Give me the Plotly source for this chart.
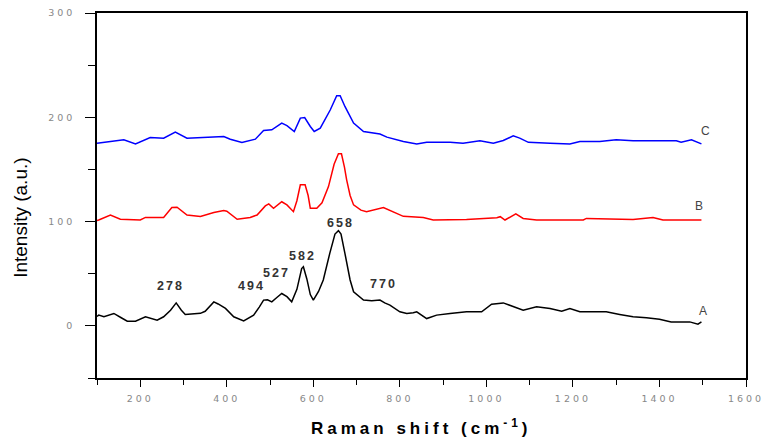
import plotly.graph_objects as go

# ---------------- data ----------------
ax = [100, 104, 116, 139, 155, 170, 189, 212, 239, 254, 270, 283, 295, 304, 339, 350, 370, 380, 397,
      416, 439, 462, 475, 485, 494, 504, 515, 527, 539, 550, 562, 573, 577, 585, 593, 600, 612, 623,
      638, 650, 658, 664, 673, 685, 693, 708, 716, 735, 754, 765, 777, 800, 816, 831, 839, 862, 885,
      916, 954, 989, 1012, 1039, 1062, 1085, 1116, 1147, 1174, 1193, 1216, 1247, 1277, 1308, 1339,
      1370, 1400, 1427, 1470, 1489, 1497]
ay = [9, 10.3, 8.7, 11.9, 8, 4.5, 4.5, 8.7, 5.5, 8.7, 15, 22, 15, 11, 12, 14, 23, 21, 16.7,
      8.7, 4.8, 10.3, 18, 24.7, 25, 23, 27, 31, 28, 23, 35, 55, 56.7, 45, 30, 24.7, 33, 44,
      69.5, 88, 91.3, 88, 69.5, 44, 32.7, 27.9, 24.7, 24, 24.7, 22, 19.9, 13.5, 11.9, 12.5, 13.5, 7, 10.3,
      11.9, 13.5, 13.5, 20.8, 22, 18.3, 15, 18.3, 16.7, 14, 16.7, 13.5, 13.5, 13.5, 11, 8.7,
      7.7, 6.4, 3.8, 3.8, 1.6, 3.8]

bx = [100, 104, 131, 154, 200, 212, 254, 273, 285, 308, 339, 370, 393, 400, 424, 454, 470, 489,
      497, 508, 527, 539, 554, 562, 570, 581, 588, 593, 608, 620, 635, 648, 658, 665, 672, 677,
      685, 693, 710, 723, 762, 793, 808, 854, 877, 954, 1024, 1032, 1043, 1068, 1085, 1116, 1224,
      1231, 1339, 1362, 1385, 1408, 1497]
by = [101, 101.5, 106.3, 102.2, 101.5, 104, 104, 113.4, 113.7, 106.3, 104.8, 108.6, 110.5, 110,
      102.2, 104, 106.3, 115, 117, 112.8, 119, 116, 109.5, 120, 135.2, 135.2, 125, 112.8, 112.8,
      118, 133.5, 155, 165, 165, 152, 140, 125, 116, 111, 109.5, 113.4, 108, 105, 104, 101.5, 102,
      103.7, 104.7, 101.5, 107.3, 103, 101.5, 101.5, 103, 102, 103, 104, 101.5, 101.5]

cx = [100, 104, 131, 162, 189, 223, 254, 281, 308, 346, 393, 408, 435, 466, 485, 504, 527, 539,
      556, 570, 580, 593, 602, 616, 639, 654, 662, 673, 693, 716, 754, 770, 808, 839, 862, 916,
      946, 985, 1016, 1039, 1062, 1077, 1097, 1147, 1193, 1216, 1262, 1300, 1339, 1439, 1450,
      1474, 1497]
cy = [175, 175.2, 176.8, 178.4, 174.5, 180.6, 180, 185.8, 180, 181, 181.6, 179, 175.8, 179, 187.3,
      188, 194.4, 192, 186.4, 199.2, 199.8, 191.2, 186.4, 189.6, 207, 220.6, 220.6, 210.4, 194.4,
      186.4, 184, 181, 176.8, 174.5, 176, 176, 175.2, 177.4, 175.2, 177.7, 182.2, 180, 176, 175.2,
      174.5, 176.8, 176.8, 178.4, 177.4, 177.4, 176, 178.4, 174.5]

peak_labels = ["278", "494", "527", "582", "658", "770"]
peak_x = [271, 458, 515, 576, 662, 762]
peak_y = [38.5, 38.5, 50.5, 67, 99, 40]

curve_names = ["A", "B", "C"]
curve_lx = [1501, 1492, 1506]
curve_ly = [14, 115, 187]

x_ticks = [200, 400, 600, 800, 1000, 1200, 1400, 1600]
y_ticks = [0, 100, 200, 300]

# ---------------- figure ----------------
fig = go.Figure()
for xs, ys, col in [(ax, ay, "black"), (bx, by, "red"), (cx, cy, "blue")]:
    fig.add_trace(go.Scatter(x=xs, y=ys, mode="lines", line=dict(color=col, width=1.5, shape="linear"),
                             showlegend=False, hoverinfo="skip"))

def spaced(t, s=3):
    return '<span style="letter-spacing:%dpx">%s</span>' % (s, t)

for t, x, y in zip(peak_labels, peak_x, peak_y):
    fig.add_annotation(x=x, y=y, text=spaced(t, 2), showarrow=False,
                       font=dict(family="Liberation Sans, Arial", size=12.5, color="#333333", weight="bold"))

for t, x, y in zip(curve_names, curve_lx, curve_ly):
    fig.add_annotation(x=x, y=y, text=t, showarrow=False,
                       font=dict(family="Liberation Sans, Arial", size=12, color="#444444"))

# axis titles
fig.add_annotation(xref="paper", yref="paper", x=0.5, y=-0.135, xanchor="center", yanchor="middle",
                   text=spaced("Raman shift (cm<sup>-1</sup>)", 4), showarrow=False,
                   font=dict(family="Liberation Sans, Arial", size=17, color="black", weight="bold"))
fig.add_annotation(xref="paper", yref="paper", x=-0.118, y=0.44, xanchor="center", yanchor="middle",
                   text="Intensity (a.u.)", textangle=-90, showarrow=False,
                   font=dict(family="Liberation Sans, Arial", size=19, color="black"))

tickfont = dict(family="DejaVu Sans", size=9.5, color="#888888")
fig.update_xaxes(range=[100, 1600], tickvals=x_ticks, ticktext=[spaced(str(v), 3) for v in x_ticks],
                 ticks="outside", ticklen=7, tickwidth=1.3, tickcolor="black",
                 minor=dict(dtick=100, tick0=100, ticks="outside", ticklen=5, tickwidth=1.3, tickcolor="black"),
                 showline=True, linecolor="black", linewidth=1.5, mirror=True, automargin=False,
                 showgrid=False, zeroline=False, tickfont=tickfont, ticklabelstandoff=4)
fig.update_yaxes(range=[-50, 300], tickvals=y_ticks, ticktext=[spaced(str(v), 3) for v in y_ticks],
                 ticks="outside", ticklen=10, tickwidth=1.3, tickcolor="black",
                 minor=dict(dtick=50, tick0=0, ticks="outside", ticklen=7, tickwidth=1.3, tickcolor="black"),
                 showline=True, linecolor="black", linewidth=1.5, mirror=True, automargin=False,
                 showgrid=False, zeroline=False, tickfont=tickfont, ticklabelstandoff=8)

fig.update_layout(width=766, height=441, margin=dict(l=97, r=20, t=13, b=63),
                  paper_bgcolor="white", plot_bgcolor="white", showlegend=False)

fig.write_html("out.html")
